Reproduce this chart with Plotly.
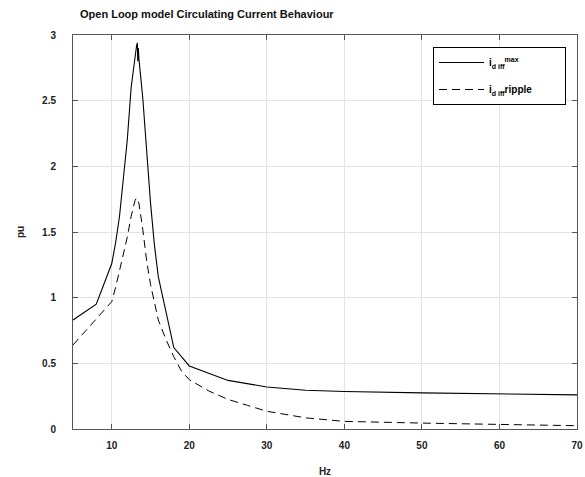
import plotly.graph_objects as go

# Frequency (Hz) and per-unit values
hz_max = [5, 8, 10, 10.5, 11, 11.5, 12, 12.5, 13, 13.2, 13.3, 13.35, 13.42, 13.5, 14, 14.5, 15, 15.5, 16, 18, 20, 25, 30, 35, 40, 50, 60, 70]
i_max = [0.83, 0.95, 1.26, 1.42, 1.62, 1.9, 2.2, 2.6, 2.86, 2.92, 2.94, 2.80, 2.90, 2.82, 2.52, 2.12, 1.72, 1.40, 1.16, 0.62, 0.48, 0.37, 0.32, 0.295, 0.285, 0.275, 0.265, 0.26]

hz_rip = [5, 8, 10, 10.5, 11, 11.5, 12, 12.5, 13, 13.2, 13.5, 14, 14.5, 15, 16, 17, 18, 19, 20, 22.5, 25, 27.5, 30, 35, 40, 50, 60, 70]
i_rip = [0.64, 0.84, 0.97, 1.08, 1.2, 1.33, 1.46, 1.62, 1.74, 1.76, 1.72, 1.52, 1.28, 1.1, 0.83, 0.68, 0.55, 0.44, 0.375, 0.29, 0.225, 0.18, 0.135, 0.085, 0.058, 0.045, 0.033, 0.025]

x_ticks = [10, 20, 30, 40, 50, 60, 70]
y_ticks = [0, 0.5, 1, 1.5, 2, 2.5, 3]
y_tick_labels = ["0", "0.5", "1", "1.5", "2", "2.5", "3"]

FONT = "Liberation Sans, Arial, sans-serif"
NB = "&nbsp;"

fig = go.Figure()
fig.add_trace(go.Scatter(x=hz_max, y=i_max, mode="lines", legendgroup="a",
                         line=dict(color="black", width=1.1),
                         name="<b>i<sub>d iff</sub><sup>max</sup></b>" + NB * 10))
fig.add_trace(go.Scatter(x=hz_rip, y=i_rip, mode="lines", legendgroup="b",
                         line=dict(color="black", width=1, dash="8px,5px"),
                         name="<b>i<sub>d iff</sub>ripple</b>" + NB * 10))

tick_font = dict(family=FONT, size=10, color="#222222", weight="bold")
axis_common = dict(
    showline=True, linecolor="#555555", linewidth=1, mirror="ticks",
    ticks="inside", ticklen=5, tickcolor="#555555", tickwidth=1,
    showgrid=True, gridcolor="#e3e3e3", gridwidth=1, zeroline=False,
    tickfont=tick_font, automargin=False, ticklabeloverflow="allow",
)

fig.update_layout(
    width=585, height=477,
    margin=dict(l=73, r=8, t=35, b=48, autoexpand=False),
    paper_bgcolor="white", plot_bgcolor="white",
    font=dict(family=FONT, size=10, color="#222222"),
    title=dict(text="<b>Open Loop model Circulating Current Behaviour</b>",
               x=80 / 585, xref="container", xanchor="left",
               y=1 - 14 / 477, yref="container", yanchor="middle",
               font=dict(family=FONT, size=11, color="#111111")),
    xaxis=dict(range=[5, 70], tickvals=x_ticks, ticklabelstandoff=7,
               title=dict(text="<b>Hz</b>", standoff=23,
                          font=dict(family=FONT, size=10, color="#222222")),
               **axis_common),
    yaxis=dict(range=[0, 3], tickvals=y_ticks, ticktext=y_tick_labels,
               ticklabelstandoff=14,
               title=dict(text="<b>pu</b>", standoff=15,
                          font=dict(family=FONT, size=10, color="#222222")),
               **axis_common),
    legend=dict(x=(433 - 73) / (577 - 73), y=(429 - 47) / 394,
                xanchor="left", yanchor="top",
                bordercolor="black", borderwidth=1, bgcolor="white",
                itemwidth=45, tracegroupgap=8,
                font=dict(family=FONT, size=10, color="black")),
    showlegend=True,
)

fig.write_html("out.html", config={"displayModeBar": False},
               post_script="document.body.style.margin='0';")
